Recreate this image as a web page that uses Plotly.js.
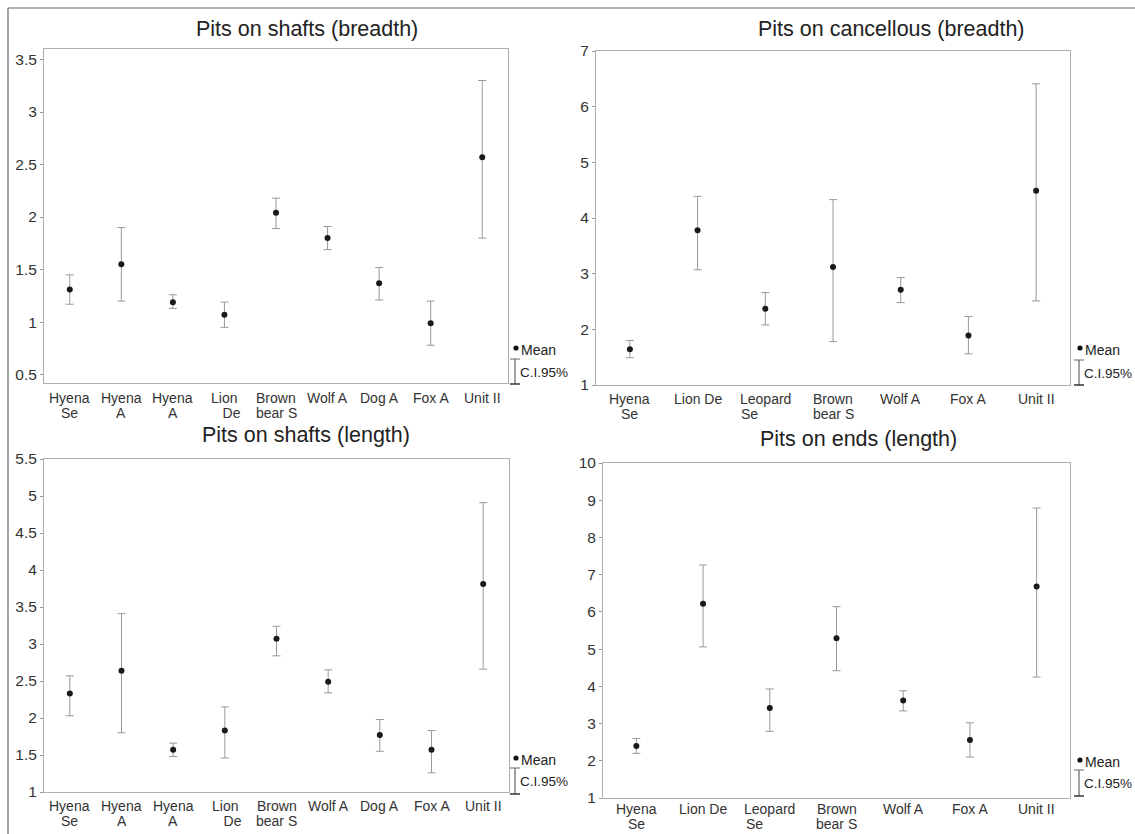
<!DOCTYPE html>
<html>
<head>
<meta charset="utf-8">
<script src="https://cdn.plot.ly/plotly-3.0.1.min.js"></script>
<style>html,body{margin:0;padding:0;background:#fff;}#chart{width:1135px;height:834px;}</style>
</head>
<body>
<div id="chart"></div>
<script>
// ---- Data ----
const titles = ["Pits on shafts (breadth)", "Pits on cancellous (breadth)", "Pits on shafts (length)", "Pits on ends (length)"];

const labels9 = ["Hyena<br>Se", "Hyena<br>A", "Hyena<br>A", "Lion<br>\u00a0\u00a0\u00a0\u00a0De", "Brown<br>bear S", "Wolf A", "Dog A", "Fox A", "Unit II"];
const labels7 = ["Hyena<br>Se", "Lion De", "Leopard<br>Se\u00a0\u00a0\u00a0\u00a0\u00a0\u00a0\u00a0\u00a0", "Brown<br>bear S", "Wolf A", "Fox A", "Unit II"];

const mean1  = [1.31, 1.55, 1.19, 1.07, 2.04, 1.80, 1.37, 0.99, 2.57];
const upper1 = [1.45, 1.90, 1.26, 1.19, 2.18, 1.91, 1.52, 1.20, 3.30];
const lower1 = [1.17, 1.20, 1.13, 0.95, 1.89, 1.69, 1.21, 0.78, 1.80];

const mean2  = [1.64, 3.78, 2.37, 3.12, 2.71, 1.89, 4.49];
const upper2 = [1.80, 4.39, 2.66, 4.33, 2.93, 2.23, 6.41];
const lower2 = [1.49, 3.07, 2.08, 1.78, 2.48, 1.56, 2.51];

const mean3  = [2.33, 2.64, 1.57, 1.83, 3.07, 2.49, 1.77, 1.57, 3.81];
const upper3 = [2.57, 3.41, 1.66, 2.15, 3.24, 2.65, 1.98, 1.83, 4.91];
const lower3 = [2.03, 1.80, 1.48, 1.46, 2.84, 2.34, 1.55, 1.26, 2.66];

const mean4  = [2.40, 6.22, 3.42, 5.29, 3.62, 2.56, 6.68];
const upper4 = [2.60, 7.26, 3.93, 6.14, 3.88, 3.02, 8.79];
const lower4 = [2.20, 5.06, 2.79, 4.42, 3.34, 2.10, 4.25];

const yTicks1 = [0.5, 1, 1.5, 2, 2.5, 3, 3.5];
const yTicks2 = [1, 2, 3, 4, 5, 6, 7];
const yTicks3 = [1, 1.5, 2, 2.5, 3, 3.5, 4, 4.5, 5, 5.5];
const yTicks4 = [1, 2, 3, 4, 5, 6, 7, 8, 9, 10];

// ---- Layout helpers ----
const W = 1135, H = 834;
const px = v => v / W;
const py = v => 1 - v / H;

const panels = [
  {mean: mean1, up: upper1, lo: lower1, labels: labels9, ticks: yTicks1, yr: [0.42, 3.6],
   box: [44, 508, 49, 383], title: [307, 29], leg: [516, 348, 359, 384, 372], lab: [398, 413]},
  {mean: mean2, up: upper2, lo: lower2, labels: labels7, ticks: yTicks2, yr: [1, 7],
   box: [596, 1070, 51, 385], title: [891, 29], leg: [1080, 348, 360, 385, 373], lab: [399, 414]},
  {mean: mean3, up: upper3, lo: lower3, labels: labels9, ticks: yTicks3, yr: [1, 5.5],
   box: [44, 509, 459, 792], title: [306, 435], leg: [516, 758, 768, 794, 781], lab: [806, 821]},
  {mean: mean4, up: upper4, lo: lower4, labels: labels7, ticks: yTicks4, yr: [1, 10],
   box: [603, 1070, 463, 798], title: [858, 439], leg: [1080, 760, 770, 796, 783], lab: [809, 824]}
];

const fontFam = 'Liberation Sans, Arial, sans-serif';
const traces = [];
const layout = {
  width: W, height: H,
  margin: {l: 0, r: 0, t: 0, b: 0},
  paper_bgcolor: '#ffffff', plot_bgcolor: '#ffffff',
  showlegend: false,
  font: {family: fontFam, color: '#222'},
  annotations: [], shapes: []
};

panels.forEach((p, i) => {
  const n = i + 1;
  const xa = n === 1 ? 'x' : 'x' + n;
  const ya = n === 1 ? 'y' : 'y' + n;
  const xs = p.mean.map((_, k) => k);
  traces.push({
    type: 'scatter', mode: 'markers', xaxis: xa, yaxis: ya,
    x: xs, y: p.mean,
    marker: {size: 6, color: '#1a1a1a'},
    error_y: {
      type: 'data', symmetric: false,
      array: p.up.map((u, k) => u - p.mean[k]),
      arrayminus: p.lo.map((l, k) => p.mean[k] - l),
      color: '#999999', thickness: 1, width: 4
    },
    hoverinfo: 'skip'
  });
  const [l, r, t, b] = p.box;
  layout['xaxis' + (n === 1 ? '' : n)] = {
    domain: [px(l), px(r)], anchor: ya,
    range: [-0.5, p.mean.length - 0.5],
    tickmode: 'array', tickvals: xs, ticktext: p.labels, showticklabels: false,
    ticks: '', showgrid: false, zeroline: false,
    showline: true, mirror: true, linecolor: '#b0b0b0', linewidth: 1
  };
  layout['yaxis' + (n === 1 ? '' : n)] = {
    domain: [py(b), py(t)], anchor: xa,
    range: p.yr,
    tickmode: 'array', tickvals: p.ticks, ticktext: p.ticks.map(String),
    ticks: 'outside', ticklen: 3, tickcolor: '#999', tickwidth: 1,
    showgrid: false, zeroline: false,
    showline: true, mirror: true, linecolor: '#b0b0b0', linewidth: 1,
    tickfont: {size: 15.5, color: '#333', family: fontFam}
  };
  // Category labels (one line at a time for tight line spacing)
  p.labels.forEach((lab, k) => {
    lab.split('<br>').forEach((line, j) => {
      layout.annotations.push({
        text: line, xref: xa, yref: 'paper', x: k, y: py(p.lab[j]),
        xanchor: 'center', yanchor: 'middle', showarrow: false,
        font: {size: 14, color: '#333', family: fontFam}
      });
    });
  });
  // Title
  layout.annotations.push({
    text: titles[i], xref: 'paper', yref: 'paper',
    x: px(p.title[0]), y: py(p.title[1]), xanchor: 'center', yanchor: 'middle',
    showarrow: false, font: {size: 21.5, color: '#222', family: fontFam}
  });
  // Legend key
  const [lx, ly, iy0, iy1, cy] = p.leg;
  layout.shapes.push({type: 'circle', xref: 'paper', yref: 'paper',
    x0: px(lx - 2.6), x1: px(lx + 2.6), y0: py(ly + 2.6), y1: py(ly - 2.6),
    fillcolor: '#111', line: {width: 0}});
  layout.annotations.push({text: 'Mean', xref: 'paper', yref: 'paper',
    x: px(lx + 3), y: py(ly + 2), xanchor: 'left', yanchor: 'middle', showarrow: false,
    font: {size: 14, color: '#222', family: fontFam}});
  const bx = lx - 1;
  layout.shapes.push({type: 'line', xref: 'paper', yref: 'paper',
    x0: px(bx), x1: px(bx), y0: py(iy0), y1: py(iy1), line: {color: '#444', width: 1}});
  layout.shapes.push({type: 'line', xref: 'paper', yref: 'paper',
    x0: px(bx - 5), x1: px(bx + 5), y0: py(iy0), y1: py(iy0), line: {color: '#666', width: 1}});
  layout.shapes.push({type: 'line', xref: 'paper', yref: 'paper',
    x0: px(bx - 5), x1: px(bx + 5), y0: py(iy1), y1: py(iy1), line: {color: '#333', width: 1.5}});
  layout.annotations.push({text: 'C.I.95%', xref: 'paper', yref: 'paper',
    x: px(bx + 3), y: py(cy), xanchor: 'left', yanchor: 'middle', showarrow: false,
    font: {size: 13.5, color: '#222', family: fontFam}});
});

// Outer frame (top and left edges)
layout.shapes.push({type: 'line', xref: 'paper', yref: 'paper',
  x0: px(8), x1: px(1135), y0: py(8), y1: py(8), line: {color: '#666', width: 1.2}});
layout.shapes.push({type: 'line', xref: 'paper', yref: 'paper',
  x0: px(8), x1: px(8), y0: py(8), y1: py(834), line: {color: '#666', width: 1.2}});

Plotly.newPlot('chart', traces, layout, {displayModeBar: false, staticPlot: true});
</script>
</body>
</html>
